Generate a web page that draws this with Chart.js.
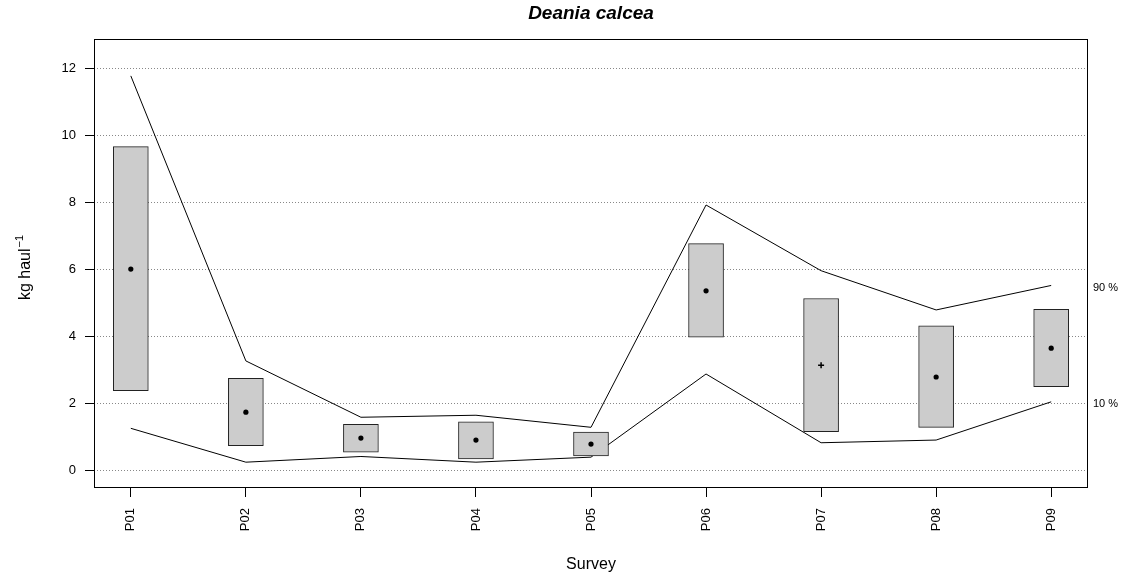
<!DOCTYPE html>
<html><head><meta charset="utf-8">
<script src="https://cdn.jsdelivr.net/npm/chart.js@4"></script>
<style>html,body{margin:0;padding:0;background:#fff}#wrap{width:1126px;height:579px}</style>
</head><body><div id="wrap"><canvas id="c" width="1126" height="579"></canvas></div>
<script>
const surveys = ['P01','P02','P03','P04','P05','P06','P07','P08','P09'];
const boxLow  = [2.38,0.74,0.55,0.35,0.44,3.98,1.16,1.29,2.50];
const boxHigh = [9.66,2.75,1.38,1.45,1.15,6.77,5.13,4.32,4.81];
const estimate = [6.01,1.74,0.97,0.91,0.79,5.36,3.14,2.79,3.65];
const p90 = [11.77,3.27,1.59,1.65,1.29,7.92,5.96,4.79,5.52];
const p10 = [1.26,0.25,0.42,0.25,0.40,2.88,0.83,0.91,2.05];
const yTicks = [0,2,4,6,8,10,12];
const markerStyles = ['circle','circle','circle','circle','circle','circle','cross','circle','circle'];

const FONT = '"Liberation Sans", Arial, Helvetica, sans-serif';

const decor = {
  id: 'decor',
  afterDatasetsDraw(chart) {
    const {ctx, chartArea: a} = chart;
    ctx.save();
    ctx.strokeStyle = '#000';
    ctx.lineWidth = 1;
    ctx.strokeRect(Math.round(a.left) + 0.5, Math.round(a.top) + 0.5, Math.round(a.right - a.left) - 1, Math.round(a.bottom - a.top));
    ctx.restore();
  },
  afterDraw(chart) {
    const {ctx, scales} = chart;
    const y = scales.y;
    ctx.save();
    ctx.fillStyle = '#000';
    ctx.font = 'italic bold 19px ' + FONT;
    ctx.textAlign = 'center';
    ctx.textBaseline = 'middle';
    ctx.fillText('Deania calcea', 591, 14);
    ctx.font = '16px ' + FONT;
    ctx.fillText('Survey', 591, 565);
    ctx.save();
    ctx.translate(30, 268);
    ctx.rotate(-Math.PI / 2);
    ctx.textBaseline = 'alphabetic';
    ctx.textAlign = 'left';
    ctx.font = '16px ' + FONT;
    const t1 = 'kg haul';
    const w1 = ctx.measureText(t1).width;
    ctx.font = '11px ' + FONT;
    const t2 = '\u22121';
    const w2 = ctx.measureText(t2).width;
    const start = -(w1 + w2) / 2;
    ctx.font = '16px ' + FONT;
    ctx.fillText(t1, start, 0);
    ctx.font = '11px ' + FONT;
    ctx.fillText(t2, start + w1 + 1, -7);
    ctx.restore();
    ctx.font = '11px ' + FONT;
    ctx.textAlign = 'left';
    ctx.textBaseline = 'middle';
    ctx.fillText('90 %', 1093, y.getPixelForValue(p90[p90.length - 1]) + 3);
    ctx.fillText('10 %', 1093, y.getPixelForValue(p10[p10.length - 1]) + 2);
    ctx.restore();
  }
};

new Chart(document.getElementById('c'), {
  type: 'bar',
  data: {
    datasets: [
      {
        type: 'scatter',
        label: 'estimate',
        data: estimate.map((v, i) => ({x: i, y: v})),
        pointStyle: markerStyles,
        pointRadius: estimate.map((v, i) => markerStyles[i] === 'cross' ? 3 : 2.6),
        pointBorderWidth: estimate.map((v, i) => markerStyles[i] === 'cross' ? 1.5 : 0),
        backgroundColor: '#000',
        borderColor: '#000',
        order: 0
      },
      {
        type: 'bar',
        label: 'interval',
        data: boxLow.map((v, i) => ({x: i, y: [v, boxHigh[i]]})),
        backgroundColor: '#cccccc',
        borderColor: '#222',
        borderWidth: 1,
        borderSkipped: false,
        barThickness: 35,
        order: 1
      },
      {
        type: 'line',
        label: '90 %',
        data: p90.map((v, i) => ({x: i, y: v})),
        borderColor: '#000',
        borderWidth: 1,
        pointRadius: 0,
        fill: false,
        tension: 0,
        order: 2
      },
      {
        type: 'line',
        label: '10 %',
        data: p10.map((v, i) => ({x: i, y: v})),
        borderColor: '#000',
        borderWidth: 1,
        pointRadius: 0,
        fill: false,
        tension: 0,
        order: 2
      }
    ]
  },
  options: {
    responsive: false,
    animation: false,
    devicePixelRatio: 1,
    layout: {padding: {left: 0, top: 39, right: 38, bottom: 0}},
    plugins: {legend: {display: false}, tooltip: {enabled: false}, title: {display: false}},
    scales: {
      x: {
        type: 'linear',
        min: -0.32,
        max: 8.32,
        offset: false,
        afterBuildTicks: s => { s.ticks = surveys.map((_, i) => ({value: i})); },
        afterFit: s => { s.height = 92; },
        border: {display: false},
        grid: {offset: false, drawOnChartArea: false, drawTicks: true, tickLength: 10, tickColor: '#000', tickWidth: 1},
        ticks: {
          autoSkip: false,
          minRotation: 90,
          maxRotation: 90,
          padding: 11,
          color: '#000',
          font: {family: FONT, size: 13},
          callback: v => surveys[v]
        }
      },
      y: {
        type: 'linear',
        min: -0.49,
        max: 12.87,
        afterBuildTicks: s => { s.ticks = yTicks.map(v => ({value: v})); },
        afterFit: s => { s.width = 94; },
        border: {display: false, dash: [1, 2]},
        grid: {color: '#888', lineWidth: 1, drawTicks: true, tickLength: 9, tickColor: '#000', tickBorderDash: [], tickWidth: 1},
        ticks: {
          padding: 9,
          color: '#000',
          font: {family: FONT, size: 13},
          callback: v => String(v)
        }
      }
    }
  },
  plugins: [decor]
});
</script>
</body></html>
